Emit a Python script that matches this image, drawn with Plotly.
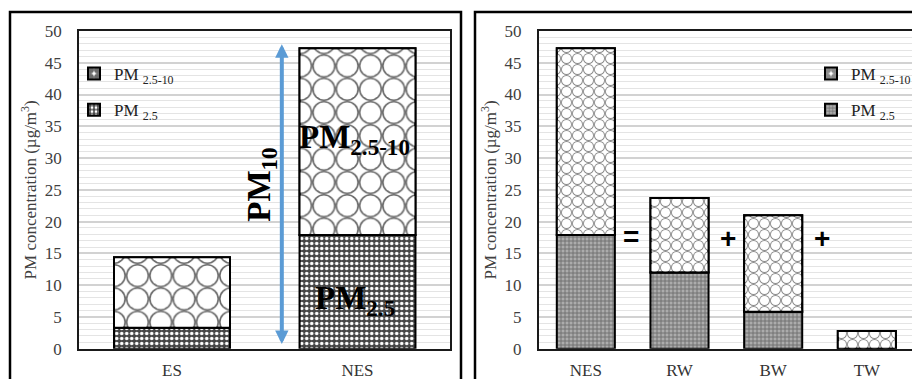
import plotly.graph_objects as go

# ---------------- data ----------------
left_categories = ["ES", "NES"]
left_pm25 = [3.3, 17.9]
left_coarse = [11.1, 29.4]

right_categories = ["NES", "RW", "BW", "TW"]
right_pm25 = [17.9, 12.0, 5.8, 0.0]
right_coarse = [29.4, 11.7, 15.2, 2.8]

y_tickvals = [0, 5, 10, 15, 20, 25, 30, 35, 40, 45, 50]
y_title = "PM concentration (µg/m<sup>3</sup>)"
name_fine = "PM <sub>2.5</sub>"
name_coarse = "PM <sub>2.5-10</sub>"

W, H = 912, 379
SERIF = "Liberation Serif"


def px_x(p):
    return p / W


def px_y(p):
    return 1 - p / H


fig = go.Figure()

# ---------- left panel ----------
fig.add_trace(go.Bar(
    x=left_categories, y=left_pm25, width=0.625, name=name_fine, legendrank=2,
    legend="legend", legendgroup="l25", xaxis="x", yaxis="y",
    marker=dict(color="#4a4a4a", line=dict(color="black", width=2),
                pattern=dict(shape=".", fgcolor="white", bgcolor="#454545",
                             size=5, solidity=0.38, fillmode="replace")),
))
fig.add_trace(go.Bar(
    x=left_categories, y=left_coarse, base=left_pm25, width=0.625, name=name_coarse,
    legendrank=1, legend="legend", legendgroup="l10", xaxis="x", yaxis="y",
    marker=dict(color="white", line=dict(color="black", width=2),
                pattern=dict(shape=".", fgcolor="#6a6a6a", bgcolor="white",
                             size=23.3, solidity=0.785, fillmode="replace")),
))
fig.add_trace(go.Bar(
    x=left_categories, y=left_coarse, base=left_pm25, width=0.625, name=name_coarse,
    showlegend=False, xaxis="x", yaxis="y",
    marker=dict(color="white", line=dict(color="black", width=2),
                pattern=dict(shape=".", fgcolor="white", bgcolor="rgba(0,0,0,0)",
                             size=23.3, solidity=0.59, fillmode="replace")),
))

# ---------- right panel ----------
fig.add_trace(go.Bar(
    x=right_categories, y=right_pm25, width=0.62, name=name_fine, legendrank=2,
    legend="legend2", legendgroup="r25", xaxis="x2", yaxis="y2",
    marker=dict(color="#9a9a9a", line=dict(color="black", width=2),
                pattern=dict(shape="+", fgcolor="#6c6c6c", bgcolor="#acacac",
                             size=4, solidity=0.4, fillmode="replace")),
))
fig.add_trace(go.Bar(
    x=right_categories, y=right_coarse, base=right_pm25, width=0.62, name=name_coarse,
    legendrank=1, legend="legend2", legendgroup="r10", xaxis="x2", yaxis="y2",
    marker=dict(color="white", line=dict(color="black", width=2),
                pattern=dict(shape=".", fgcolor="#8a8a8a", bgcolor="white",
                             size=11, solidity=0.785, fillmode="replace")),
))
fig.add_trace(go.Bar(
    x=right_categories, y=right_coarse, base=right_pm25, width=0.62, name=name_coarse,
    showlegend=False, xaxis="x2", yaxis="y2",
    marker=dict(color="white", line=dict(color="black", width=2),
                pattern=dict(shape=".", fgcolor="white", bgcolor="rgba(0,0,0,0)",
                             size=11, solidity=0.54, fillmode="replace")),
))

# ---------- axes ----------
ydom = [px_y(348.7), px_y(31)]
common_x = dict(showline=True, linecolor="#1a1a1a", linewidth=2, mirror=True,
                showgrid=False, ticks="outside", ticklen=5, tickcolor="rgba(0,0,0,0)",
                automargin=False,
                tickfont=dict(family=SERIF, size=17, color="#333333"), fixedrange=True)
common_y = dict(range=[0, 50], tickvals=y_tickvals, showline=True, linecolor="#1a1a1a",
                linewidth=2, mirror=True, showgrid=True, gridcolor="#d2d2d2", gridwidth=1.5,
                minor=dict(dtick=1, showgrid=True, gridcolor="#e4e4e4", gridwidth=1.3),
                zeroline=False, ticks="outside", ticklen=12, tickcolor="rgba(0,0,0,0)",
                automargin=False,
                tickfont=dict(family=SERIF, size=17, color="#404040"), fixedrange=True)

fig.update_layout(
    xaxis=dict(domain=[px_x(79.25), px_x(450.25)], range=[-0.5, 1.5], anchor="y", **common_x),
    yaxis=dict(domain=ydom, anchor="x",
               title=dict(text=y_title, standoff=4, font=dict(family=SERIF, size=17, color="#404040")),
               **common_y),
    xaxis2=dict(domain=[px_x(539), 1.0], range=[-0.5, 3.482], anchor="y2", **common_x),
    yaxis2=dict(domain=ydom, anchor="x2",
                title=dict(text=y_title, standoff=4, font=dict(family=SERIF, size=17, color="#404040")),
                **common_y),
)

fig.update_layout(
    width=W, height=H, margin=dict(l=0, r=0, t=0, b=0, autoexpand=False),
    paper_bgcolor="white", plot_bgcolor="white", barmode="overlay",
    legend=dict(x=px_x(74), y=px_y(56), xanchor="left", yanchor="top",
                bgcolor="rgba(0,0,0,0)", traceorder="grouped", tracegroupgap=11, itemwidth=30,
                font=dict(family=SERIF, size=17, color="#222222")),
    legend2=dict(x=px_x(811), y=px_y(56), xanchor="left", yanchor="top",
                 bgcolor="rgba(0,0,0,0)", traceorder="grouped", tracegroupgap=11, itemwidth=30,
                 font=dict(family=SERIF, size=17, color="#222222")),
    showlegend=True,
)

# ---------- panel frames ----------
fig.add_shape(type="rect", xref="paper", yref="paper",
              x0=px_x(10), x1=px_x(461), y0=-0.1, y1=px_y(12),
              line=dict(color="black", width=2.5), fillcolor="rgba(0,0,0,0)", layer="above")
fig.add_shape(type="rect", xref="paper", yref="paper",
              x0=px_x(475), x1=1.1, y0=-0.1, y1=px_y(12),
              line=dict(color="black", width=2.5), fillcolor="rgba(0,0,0,0)", layer="above")

# ---------- annotations ----------
nes_total = left_pm25[1] + left_coarse[1]
fig.add_annotation(x=0.592, y=nes_total + 0.6, ax=0.592, ay=0.5, xref="x", yref="y",
                   axref="x", ayref="y", text="", showarrow=True, arrowhead=2,
                   arrowside="end+start", arrowwidth=4, arrowsize=0.67, arrowcolor="#5B9BD5")
big = dict(family=SERIF, size=33, color="black")
fig.add_annotation(x=0.485, y=25.8, xref="x", yref="y", text="<b>PM<sub>10</sub></b>",
                   textangle=-90, showarrow=False, font=big)
fig.add_annotation(x=0.984, y=32.9, xref="x", yref="y", text="<b>PM<sub>2.5-10</sub></b>",
                   showarrow=False, font=big)
fig.add_annotation(x=0.984, y=7.6, xref="x", yref="y", text="<b>PM<sub>2.5</sub></b>",
                   showarrow=False, font=big)
ops = dict(family="Liberation Sans", size=28, color="black")
fig.add_annotation(x=0.482, y=17.6, xref="x2", yref="y2", text="<b>=</b>", showarrow=False, font=ops)
fig.add_annotation(x=1.518, y=17.3, xref="x2", yref="y2", text="<b>+</b>", showarrow=False, font=ops)
fig.add_annotation(x=2.521, y=17.3, xref="x2", yref="y2", text="<b>+</b>", showarrow=False, font=ops)

fig.write_html(
    "out.html",
    config={"displayModeBar": False},
    post_script="document.body.style.margin='0';document.body.style.overflow='hidden';",
)
